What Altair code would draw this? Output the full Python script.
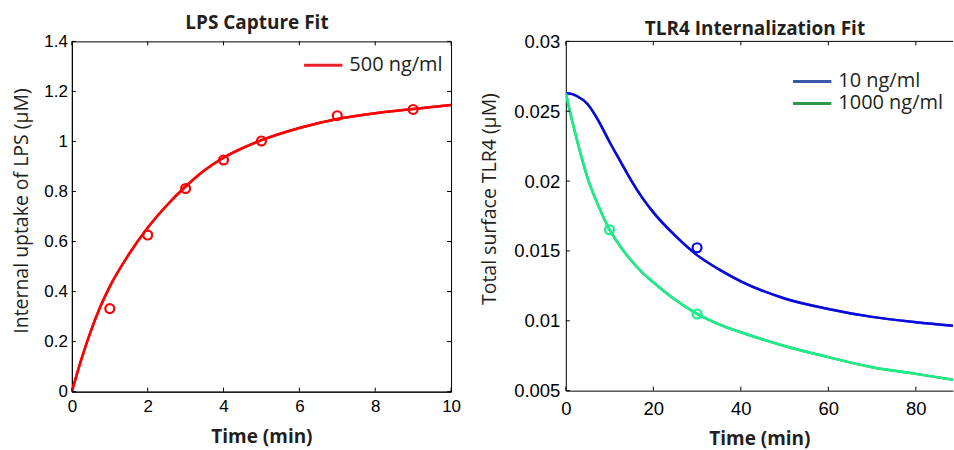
import altair as alt
import pandas as pd

# ---------------- Left panel: LPS capture ----------------
lps_series = ["500 ng/ml"]
lps_fit_t = [0, 0.25, 0.5, 0.75, 1, 1.5, 2, 2.5, 3, 3.5, 4, 5, 6, 7, 8, 9, 10]
lps_fit_y = [0, 0.129, 0.242, 0.339, 0.42, 0.548, 0.655, 0.744, 0.82, 0.885, 0.935,
             1.005, 1.054, 1.09, 1.113, 1.13, 1.146]
lps_obs_t = [1, 2, 3, 4, 5, 7, 9]
lps_obs_y = [0.332, 0.626, 0.812, 0.926, 1.002, 1.103, 1.128]
lps_xticks = [0, 2, 4, 6, 8, 10]
lps_yticks = [0, 0.2, 0.4, 0.6, 0.8, 1.0, 1.2, 1.4]

# ---------------- Right panel: TLR4 internalization ----------------
tlr_series = ["10 ng/ml", "1000 ng/ml"]
tlr_fit_t = [0, 1, 2.5, 5, 7.5, 10, 12.5, 15, 17.5, 20, 25, 30, 35, 40, 50, 60, 70, 80, 90]
tlr_fit_10 = [0.02628, 0.02626, 0.02609, 0.0255, 0.0243, 0.0228, 0.0214, 0.02002,
              0.0188, 0.01776, 0.01609, 0.0147, 0.01368, 0.01283, 0.0116, 0.01085,
              0.01028, 0.0099, 0.0096]
tlr_fit_1000 = [0.02628, 0.0249, 0.0230, 0.0202, 0.0182, 0.01652, 0.0153, 0.0143,
                0.01345, 0.01276, 0.0115, 0.01049, 0.00975, 0.00918, 0.0082, 0.0074,
                0.00667, 0.0062, 0.0057]
tlr_obs_t_10 = [30, 90]
tlr_obs_y_10 = [0.01523, 0.01056]
tlr_obs_t_1000 = [10, 30]
tlr_obs_y_1000 = [0.01652, 0.01049]
tlr_xticks = [0, 20, 40, 60, 80]
tlr_yticks = [0.005, 0.01, 0.015, 0.02, 0.025, 0.03]

LPS_LINE = ["#ff0000"]
LPS_LEG = ["#e8222a"]
TLR_LINE = ["#0a0ae0", "#19f08a"]
TLR_LEG = ["#3a58a8", "#2e9a48"]
TXT = "#231f20"
TICK_FONT = "Liberation Sans"
TITLE_FONT = "Open Sans"

LW, LH = 380, 351
RW, RH = 388, 350
TL = 4  # inward tick length
SYM = 368.6  # legend symbol size -> 38.4 px long line with the custom path


def legend(x, y):
    return alt.Legend(title=None, orient="none", legendX=x + 9.6, legendY=y,
                      symbolType="M-2,0L2,0", symbolSize=SYM, symbolStrokeWidth=3,
                      labelFont=TITLE_FONT, labelFontSize=20, labelColor=TXT,
                      labelOffset=14.7, padding=0, rowPadding=-0.8)


def panel(fit, obs, series, line_cols, leg_cols, xdom, ydom, xticks, yticks,
          w, h, xaxis, yaxis, leg, title, right_box):
    xs = alt.Scale(domain=xdom, nice=False, zero=False)
    ys = alt.Scale(domain=ydom, nice=False, zero=False)
    x = alt.X("t:Q", scale=xs, axis=xaxis)
    y = alt.Y("y:Q", scale=ys, axis=yaxis)
    stroke = alt.Stroke("s:N", scale=alt.Scale(domain=series, range=line_cols), legend=None)

    under = alt.Chart(fit).mark_line(strokeWidth=2.5, interpolate="monotone", clip=True).encode(
        x=x, y=y, detail="s:N",
        color=alt.Color("s:N", scale=alt.Scale(domain=series, range=leg_cols), legend=leg))
    line = alt.Chart(fit).mark_line(strokeWidth=2.5, interpolate="monotone", clip=True).encode(
        x="t:Q", y="y:Q", detail="s:N", stroke=stroke)
    pts = alt.Chart(obs).mark_point(shape="circle", filled=False, size=80, strokeWidth=2.2,
                                    opacity=1, clip=True).encode(
        x="t:Q", y="y:Q", stroke=stroke)

    xt = pd.DataFrame({"t": xticks})
    yt = pd.DataFrame({"y": yticks})
    bot = alt.Chart(xt).mark_rule(color="black", strokeWidth=1).encode(
        x="t:Q", y=alt.value(h), y2=alt.value(h - TL))
    top = alt.Chart(xt).mark_rule(color="black", strokeWidth=1).encode(
        x="t:Q", y=alt.value(0), y2=alt.value(TL))
    lft = alt.Chart(yt).mark_rule(color="black", strokeWidth=1).encode(
        y="y:Q", x=alt.value(0), x2=alt.value(TL))
    layers = [under, line, pts, bot, top, lft]
    if right_box:
        rgt = alt.Chart(yt).mark_rule(color="black", strokeWidth=1).encode(
            y="y:Q", x=alt.value(w - TL), x2=alt.value(w))
        layers.append(rgt)
        view = alt.ViewBackground(stroke="black", strokeWidth=1)
    else:
        border = alt.Chart(pd.DataFrame({"y": [ydom[1]]})).mark_rule(
            color="black", strokeWidth=1).encode(y="y:Q", x=alt.value(0), x2=alt.value(w))
        layers.append(border)
        view = alt.ViewBackground(strokeOpacity=0)
    return alt.layer(*layers).properties(width=w, height=h, title=title, view=view)


def xaxis(values, pad, size, ty):
    return alt.Axis(values=values, format=".0f", grid=False, ticks=False, tickSize=0,
                    domain=True, domainColor="black", domainWidth=1,
                    labelFont=TICK_FONT, labelFontSize=size, labelColor="black",
                    labelPadding=pad, labelFlush=False, labelOverlap=False,
                    title="Time (min)", titleFont=TITLE_FONT, titleFontSize=19,
                    titleFontWeight="bold", titleColor=TXT, titleBaseline="top",
                    titleY=ty)


def yaxis(values, fmt, pad, size, title, tx, ty):
    return alt.Axis(values=values, format=fmt, grid=False, ticks=False, tickSize=0,
                    domain=True, domainColor="black", domainWidth=1,
                    labelFont=TICK_FONT, labelFontSize=size, labelColor="black",
                    labelPadding=pad, labelFlush=False, labelOverlap=False,
                    title=title, titleFont=TITLE_FONT, titleFontSize=19.5,
                    titleFontWeight="normal", titleColor=TXT, titleAngle=270,
                    titleBaseline="bottom", titleX=tx, titleY=ty)


left_fit = pd.DataFrame({"t": lps_fit_t, "y": lps_fit_y, "s": lps_series[0]})
left_obs = pd.DataFrame({"t": lps_obs_t, "y": lps_obs_y, "s": lps_series[0]})

right_fit = pd.concat([
    pd.DataFrame({"t": tlr_fit_t, "y": tlr_fit_10, "s": tlr_series[0]}),
    pd.DataFrame({"t": tlr_fit_t, "y": tlr_fit_1000, "s": tlr_series[1]}),
], ignore_index=True)
right_obs = pd.concat([
    pd.DataFrame({"t": tlr_obs_t_10, "y": tlr_obs_y_10, "s": tlr_series[0]}),
    pd.DataFrame({"t": tlr_obs_t_1000, "y": tlr_obs_y_1000, "s": tlr_series[1]}),
], ignore_index=True)

left = panel(left_fit, left_obs, lps_series, LPS_LINE, LPS_LEG, [0, 10], [0, 1.4],
             lps_xticks, lps_yticks, LW, LH,
             xaxis(lps_xticks, 7, 17, 36.3),
             yaxis(lps_yticks, ".1~f", 4.5, 17, "Internal uptake of LPS (μM)", -40.9, 169.5),
             legend(230.8, 12.4),
             alt.TitleParams("LPS Capture Fit", font=TITLE_FONT, fontSize=19, fontWeight="bold",
                             color=TXT, baseline="alphabetic", offset=-15.4, dx=-4.5,
                             anchor="middle"),
             True)

right = panel(right_fit, right_obs, tlr_series, TLR_LINE, TLR_LEG, [0, 88.5], [0.005, 0.03],
              tlr_xticks, tlr_yticks, RW, RH,
              xaxis(tlr_xticks, 8.5, 18.5, 39),
              yaxis(tlr_yticks, ".3~f", 6, 18.5, "Total surface TLR4 (μM)", -66.3, 157.5),
              legend(225.8, 28.7),
              alt.TitleParams("TLR4 Internalization Fit", font=TITLE_FONT, fontSize=19,
                              fontWeight="bold", color=TXT, baseline="alphabetic", offset=-21.4,
                              dx=-4.5, anchor="middle"),
              False)

chart = alt.hconcat(left, right, spacing=115, bounds="flush").resolve_scale(
    color="independent", stroke="independent", x="independent", y="independent"
).resolve_legend(color="independent", stroke="independent").properties(
    padding={"left": 10, "top": 12, "right": 0, "bottom": 0}
).configure(background="white")

chart.save("out.html", embed_options={"renderer": "svg", "actions": False})
